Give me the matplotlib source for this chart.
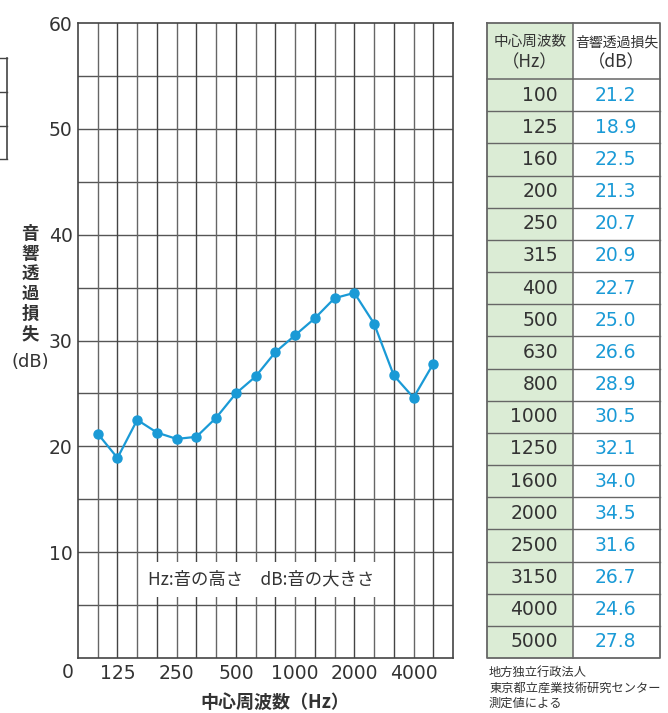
import numpy as np
import matplotlib
matplotlib.use('Agg')
import matplotlib.pyplot as plt
from matplotlib.patches import Rectangle

plt.rcParams['font.family'] = ['Noto Sans CJK JP', 'DejaVu Sans']
num_font = ['DejaVu Sans']

freqs = ['100', '125', '160', '200', '250', '315', '400', '500', '630', '800',
         '1000', '1250', '1600', '2000', '2500', '3150', '4000', '5000']
loss_db = [21.2, 18.9, 22.5, 21.3, 20.7, 20.9, 22.7, 25.0, 26.6, 28.9,
           30.5, 32.1, 34.0, 34.5, 31.6, 26.7, 24.6, 27.8]
xtick_labels = ['125', '250', '500', '1000', '2000', '4000']
yticks = [10, 20, 30, 40, 50, 60]

blue = '#1a9ad6'
grid_c = '#555555'
text_c = '#333333'

W, H = 668, 713
fig = plt.figure(figsize=(W / 100, H / 100), dpi=100)

def px(x0, y0, x1, y1):
    # pixel box -> figure fraction rect
    return [x0 / W, 1 - y1 / H, (x1 - x0) / W, (y1 - y0) / H]

# ---- main chart ----
ax = fig.add_axes(px(78, 23, 453, 658))
xs = np.arange(1, len(freqs) + 1)
ax.set_xlim(0, len(freqs) + 1)
ax.set_ylim(0, 60)

for y in np.arange(5, 60, 5):
    ax.axhline(y, color=grid_c, lw=1.0, zorder=1)
for x in range(1, len(freqs) + 1):
    ax.axvline(x, color='#666666' if x % 2 else '#444444', lw=1.0, zorder=1)
for s in ax.spines.values():
    s.set_color('#444444')
    s.set_linewidth(1.2)

ax.plot(xs, loss_db, color=blue, lw=1.6, marker='o', ms=6.5,
        markerfacecolor=blue, markeredgecolor=blue, zorder=4)

ax.set_yticks(yticks)
ax.set_yticklabels([str(v) for v in yticks], family=num_font)
tick_pos = [freqs.index(l) + 1 for l in xtick_labels]
ax.set_xticks(tick_pos)
ax.set_xticklabels(xtick_labels, family=num_font)
ax.tick_params(length=0, labelsize=13.5, colors=text_c, pad=4)
ax.tick_params(axis='y', pad=4)
ax.text(-0.5, -0.5, '0', ha='center', va='top', fontsize=13.5,
        color=text_c, family=num_font)

ax.text(9.3, 7.4, 'Hz:音の高さ　dB:音の大きさ', ha='center', va='center',
        fontsize=12.5, color=text_c, zorder=5,
        bbox=dict(boxstyle='square,pad=0.5', fc='white', ec='none'))

fig.text(275 / W, 1 - 702 / H, '中心周波数（Hz）', ha='center', va='center',
         fontsize=13, fontweight='bold', color=text_c)
fig.text(30 / W, 1 - 284 / H, '音\n響\n透\n過\n損\n失', ha='center', va='center',
         fontsize=12.5, fontweight='bold', color=text_c, linespacing=1.15)
fig.text(30 / W, 1 - 362 / H, '(dB)', ha='center', va='center',
         fontsize=13, color=text_c, family=num_font)

# fragment of another table at the left edge
tax0 = fig.add_axes([0, 0, 1, 1], facecolor='none')
tax0.set_xlim(0, W)
tax0.set_ylim(H, 0)
tax0.axis('off')
tax0.plot([7, 7], [58, 159], color='#444444', lw=1.2)
for y in [58, 92, 126, 159]:
    tax0.plot([0, 7], [y, y], color='#444444', lw=1.0)

# ---- value table ----
tx0, tx1, tmid = 487, 660, 573
ttop, thead, tbot = 23, 79, 658
row_h = (tbot - thead) / len(freqs)
tax0.add_patch(Rectangle((tx0, ttop), tmid - tx0, tbot - ttop,
                         fc='#dbecd5', ec='none', zorder=0))
tax0.plot([tx0, tx1, tx1, tx0, tx0], [ttop, ttop, tbot, tbot, ttop],
          color='#666666', lw=1.3)
tax0.plot([tmid, tmid], [ttop, tbot], color='#666666', lw=1.1)
tax0.plot([tx0, tx1], [thead, thead], color='#666666', lw=1.1)
for i in range(1, len(freqs)):
    y = thead + i * row_h
    tax0.plot([tx0, tx1], [y, y], color='#666666', lw=1.0)

tax0.text((tx0 + tmid) / 2, 42, '中心周波数', ha='center', va='center',
          fontsize=10.5, color=text_c)
tax0.text((tx0 + tmid) / 2, 62, '（Hz）', ha='center', va='center',
          fontsize=12.5, color=text_c)
tax0.text((tmid + tx1) / 2, 42, '音響透過損失', ha='center', va='center',
          fontsize=10, color=text_c)
tax0.text((tmid + tx1) / 2, 62, '（dB）', ha='center', va='center',
          fontsize=12.5, color=text_c)
for i, (f, v) in enumerate(zip(freqs, loss_db)):
    yc = thead + (i + 0.5) * row_h
    tax0.text(558, yc, f, ha='right', va='center', fontsize=13.5,
              color=text_c, family=num_font)
    tax0.text((tmid + tx1) / 2 - 1, yc, f'{v:.1f}', ha='center', va='center',
              fontsize=13.5, color=blue, family=num_font)

tax0.text(489, 688, '地方独立行政法人\n東京都立産業技術研究センター\n測定値による',
          ha='left', va='center', fontsize=8.8, color=text_c, linespacing=1.25)

fig.savefig('out.png', dpi=100)
